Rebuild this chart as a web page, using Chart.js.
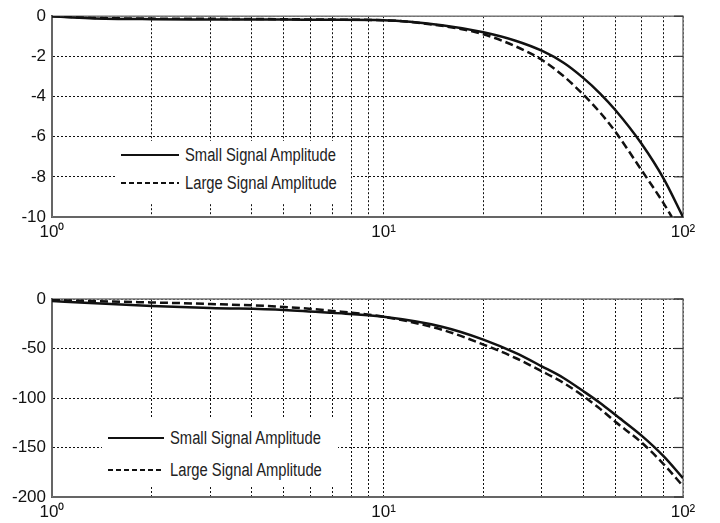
<!DOCTYPE html>
<html lang="en">
<head>
  <meta charset="UTF-8">
  <script src="https://cdn.jsdelivr.net/npm/chart.js"></script>
  <title>Signal Amplitude</title>
  <style>
    body { margin:0; width:720px; height:523px; background:#fff; position:relative; overflow:hidden;
           font-family:'Liberation Sans',Arial,sans-serif; }
    .box { position:absolute; left:0; width:720px; }
    .legend { position:absolute; background:#fff; font-size:18px; color:#222; }
    .row { position:absolute; left:6px; height:22px; display:flex; align-items:center; white-space:nowrap; }
    .row svg { margin-right:6px; flex:none; }
    .row span { display:inline-block; transform:scaleX(0.82); transform-origin:left center; }
  </style>
</head>

<body>
  <div class="box" style="top:0;height:262px"><canvas id="topChart"></canvas></div>
  <div class="box" style="top:262px;height:261px"><canvas id="bottomChart"></canvas></div>

  <div class="legend" style="left:115px;top:141px;width:236px;height:63px">
    <div class="row" style="top:3px"><svg width="58" height="4"><line x1="0" y1="2" x2="58" y2="2" stroke="#111" stroke-width="2"/></svg><span>Small Signal Amplitude</span></div>
    <div class="row" style="top:31px"><svg width="58" height="4"><line x1="0" y1="2" x2="58" y2="2" stroke="#111" stroke-width="2" stroke-dasharray="5,3"/></svg><span>Large Signal Amplitude</span></div>
  </div>
  <div class="legend" style="left:102px;top:418px;width:236px;height:67px">
    <div class="row" style="top:9px"><svg width="56" height="4"><line x1="0" y1="2" x2="56" y2="2" stroke="#111" stroke-width="2"/></svg><span>Small Signal Amplitude</span></div>
    <div class="row" style="top:41px"><svg width="56" height="4"><line x1="0" y1="2" x2="56" y2="2" stroke="#111" stroke-width="2" stroke-dasharray="5,3"/></svg><span>Large Signal Amplitude</span></div>
  </div>

<script>
  // frequency points (x)
  const freq      = [1, 1.3, 2, 3, 5, 7, 10, 15, 20, 25, 30, 35, 40, 45, 50, 60, 70, 80];
  const freqTopLarge = [1, 1.3, 2, 3, 5, 7, 10, 15, 20, 25, 30, 35, 40, 45, 50, 60, 70, 74];

  // top plot
  const topSmall = [0, -0.1, -0.15, -0.16, -0.17, -0.18, -0.2, -0.45, -0.8, -1.22, -1.72, -2.33, -3.07, -3.85, -4.67, -6.35, -8.1, -10];
  const topLarge = [0, -0.08, -0.12, -0.13, -0.15, -0.17, -0.2, -0.48, -0.9, -1.5, -2.17, -3.0, -3.9, -4.8, -5.75, -7.67, -9.33, -10];

  // bottom plot
  const botSmall = [-2, -4, -7, -9, -11, -14, -18, -28, -41, -54.5, -68, -80, -93, -105, -117, -138, -159, -181];
  const botLarge = [-1, -2, -3.5, -5, -8, -12, -18, -31, -46, -59.6, -73, -85, -98, -111, -124, -145, -167, -189];

  const xTickVals = [1, 2, 3, 4, 5, 6, 7, 8, 9, 10, 20, 30, 40, 50, 60, 70, 80];
  const xTickText = ['10\u2070', '', '', '', '', '', '', '', '', '10\u00b9', '', '', '', '', '', '', '10\u00b2'];
  const topYTicks = [0, -2, -4, -6, -8, -10];
  const botYTicks = [0, -50, -100, -150, -200];

  const FONT = "'Liberation Sans',Arial,sans-serif";

  // box around the plot plus short inward ticks on the right edge
  const frame = {
    id: 'frame',
    beforeDatasetsDraw(chart) {
      const a = chart.chartArea, ctx = chart.ctx;
      ctx.save();
      ctx.strokeStyle = '#777';
      ctx.lineWidth = 1.5;
      ctx.strokeRect(a.left, a.top, a.right - a.left, a.bottom - a.top);
      ctx.strokeStyle = '#333';
      ctx.lineWidth = 1.2;
      chart.scales.y.ticks.forEach(t => {
        const py = chart.scales.y.getPixelForValue(t.value);
        ctx.beginPath(); ctx.moveTo(a.right - 9, py); ctx.lineTo(a.right, py); ctx.stroke();
      });
      ctx.restore();
    }
  };

  function pts(xs, ys) {
    return ys.map((y, i) => ({ x: xs[i], y: y }));
  }

  function makeChart(id, xsSmall, small, xsLarge, large, yTicks, padTop, xHeight) {
    return new Chart(document.getElementById(id), {
      type: 'line',
      data: {
        datasets: [
          { label: 'Small Signal Amplitude', data: pts(xsSmall, small), borderColor: '#111',
            borderWidth: 2.5, pointRadius: 0, cubicInterpolationMode: 'monotone' },
          { label: 'Large Signal Amplitude', data: pts(xsLarge, large), borderColor: '#111',
            borderWidth: 2.5, borderDash: [8, 4], pointRadius: 0, cubicInterpolationMode: 'monotone' }
        ]
      },
      options: {
        responsive: true,
        maintainAspectRatio: false,
        animation: false,
        layout: { padding: { top: padTop, right: 37, left: 0, bottom: 0 } },
        plugins: { legend: { display: false }, tooltip: { enabled: false } },
        scales: {
          x: {
            type: 'logarithmic',
            min: xTickVals[0],
            max: xTickVals[xTickVals.length - 1],
            afterBuildTicks: s => { s.ticks = xTickVals.map(v => ({ value: v })); },
            afterFit: s => { s.height = xHeight; },
            grid: { color: '#111', lineWidth: 1, drawTicks: false },
            border: { display: true, color: '#333', width: 2, dash: [2, 2] },
            ticks: {
              autoSkip: false, maxRotation: 0, padding: 5, color: '#111',
              font: { family: FONT, size: 17 },
              callback: (v, i) => xTickText[i]
            }
          },
          y: {
            min: yTicks[yTicks.length - 1],
            max: yTicks[0],
            afterBuildTicks: s => { s.ticks = yTicks.map(v => ({ value: v })); },
            afterFit: s => { s.width = 52; },
            grid: { color: '#111', lineWidth: 1, drawTicks: false },
            border: { display: true, color: '#333', width: 2, dash: [2, 2] },
            ticks: { padding: 6, color: '#111', font: { family: FONT, size: 17 } }
          }
        }
      },
      plugins: [frame]
    });
  }

  makeChart('topChart', freq, topSmall, freqTopLarge, topLarge, topYTicks, 16, 45);
  makeChart('bottomChart', freq, botSmall, freq, botLarge, botYTicks, 37, 26);
</script>
</body>
</html>
